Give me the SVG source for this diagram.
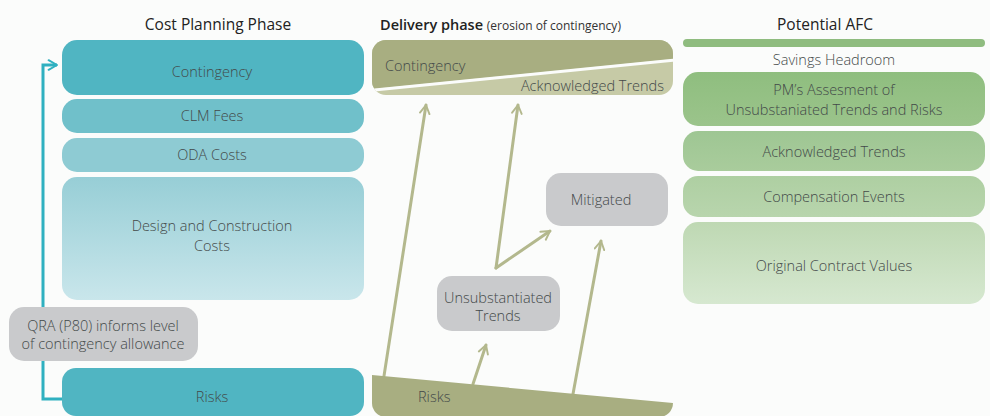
<svg xmlns="http://www.w3.org/2000/svg" width="990" height="416" viewBox="0 0 990 416">
<style>
text{font-family:"Open Sans","Liberation Sans",sans-serif;font-weight:300;fill:#434949;font-size:14.5px}
.c{text-anchor:middle}
.title{font-weight:500;fill:#222;font-size:15.5px}
.olive{stroke:#b3b88d;stroke-width:3;fill:none;stroke-linecap:round;stroke-linejoin:round}
.teal{stroke:#2fb0c0;stroke-width:3;fill:none}
.gray{fill:#c9cacc}
</style>
<defs>
<linearGradient id="gDC" x1="0" y1="0" x2="0" y2="1"><stop offset="0" stop-color="#97ced6"/><stop offset="1" stop-color="#c9e6eb"/></linearGradient>
<linearGradient id="gPM" x1="0" y1="0" x2="0" y2="1"><stop offset="0" stop-color="#8fbe7f"/><stop offset="1" stop-color="#9bc48b"/></linearGradient>
<linearGradient id="gAT" x1="0" y1="0" x2="0" y2="1"><stop offset="0" stop-color="#9ec693"/><stop offset="1" stop-color="#a9cc9c"/></linearGradient>
<linearGradient id="gCE" x1="0" y1="0" x2="0" y2="1"><stop offset="0" stop-color="#aecfa2"/><stop offset="1" stop-color="#b8d5ad"/></linearGradient>
<linearGradient id="gOC" x1="0" y1="0" x2="0" y2="1"><stop offset="0" stop-color="#bed8b3"/><stop offset="1" stop-color="#d6e8d0"/></linearGradient>
<clipPath id="cTop"><rect x="372" y="40" width="301" height="55" rx="14"/></clipPath>
<clipPath id="cBot"><rect x="372" y="350" width="301" height="67" rx="14"/></clipPath>
<marker id="ah" viewBox="0 0 10 10" refX="8" refY="5" markerWidth="4" markerHeight="4" orient="auto" markerUnits="strokeWidth"><path d="M1,1 L8,5 L1,9" fill="none" stroke="#b3b88d" stroke-width="1.6" stroke-linecap="round" stroke-linejoin="round"/></marker>
<marker id="aht" viewBox="0 0 10 10" refX="8" refY="5" markerWidth="4" markerHeight="4" orient="auto" markerUnits="strokeWidth"><path d="M1,1 L8,5 L1,9" fill="none" stroke="#2fb0c0" stroke-width="1.6" stroke-linecap="round" stroke-linejoin="round"/></marker>
</defs>
<rect width="990" height="416" fill="#fbfcfb"/>

<text class="title c" x="218" y="30">Cost Planning Phase</text>
<text x="380" y="30" style="font-weight:600;fill:#222;font-size:14.5px">Delivery phase <tspan style="font-weight:400;font-size:12px;fill:#333">(erosion of contingency)</tspan></text>
<text class="title c" x="825" y="30">Potential AFC</text>

<g id="connectors">
<polyline class="teal" points="62,399 43,399 43,65 57,65" marker-end="url(#aht)"/>
<line class="olive" x1="384" y1="376" x2="426" y2="105" marker-end="url(#ah)"/>
<line class="olive" x1="496" y1="268" x2="518" y2="105" marker-end="url(#ah)"/>
<line class="olive" x1="496" y1="268" x2="550" y2="231" marker-end="url(#ah)"/>
<line class="olive" x1="473" y1="384" x2="486" y2="345" marker-end="url(#ah)"/>
<line class="olive" x1="573" y1="394" x2="601" y2="241" marker-end="url(#ah)"/>
</g>

<g id="cp-contingency"><rect x="62" y="40" width="302" height="55" rx="15" fill="#50b5c2"/><text class="c" x="212" y="77">Contingency</text></g>
<g id="cp-clm"><rect x="62" y="99" width="302" height="34" rx="15" fill="#70c0ca"/><text class="c" x="212" y="121">CLM Fees</text></g>
<g id="cp-oda"><rect x="62" y="138" width="302" height="34" rx="15" fill="#8ecbd3"/><text class="c" x="212" y="160">ODA Costs</text></g>
<g id="cp-design"><rect x="62" y="177" width="302" height="123" rx="15" fill="url(#gDC)"/><text class="c" x="212" y="231">Design and Construction</text><text class="c" x="212" y="251">Costs</text></g>
<g id="cp-risks"><rect x="62" y="368" width="302" height="48" rx="14" fill="#50b5c2"/><text class="c" x="212" y="402">Risks</text></g>
<g id="qra"><rect x="9" y="307" width="189" height="54" rx="15" class="gray"/><text class="c" x="103" y="331">QRA (P80) informs level</text><text class="c" x="103" y="349">of contingency allowance</text></g>

<g id="dp-contingency">
<g clip-path="url(#cTop)">
<rect x="372" y="40" width="301" height="55" fill="#c6caa6"/>
<polygon points="372,40 673,40 673,59 372,89" fill="#a8ae81"/>
<line x1="370" y1="90.5" x2="675" y2="60" stroke="#fbfcfb" stroke-width="3"/>
</g>
<text x="385" y="71">Contingency</text>
<text x="664" y="91" style="text-anchor:end">Acknowledged Trends</text>
</g>
<g id="dp-risks">
<g clip-path="url(#cBot)"><polygon points="372,375 673,403 673,420 372,420" fill="#a8ae81"/></g>
<text x="418" y="402">Risks</text>
</g>
<g id="unsub"><rect x="437" y="276" width="123" height="55" rx="15" class="gray"/><text class="c" x="498" y="303">Unsubstantiated</text><text class="c" x="498" y="321">Trends</text></g>
<g id="mitigated"><rect x="546" y="173" width="122" height="53" rx="15" class="gray"/><text class="c" x="601" y="205">Mitigated</text></g>

<g id="savings"><rect x="683" y="39" width="302" height="8" rx="4" fill="#8fbc7f"/><text class="c" x="834" y="65">Savings Headroom</text></g>
<g id="pm"><rect x="683" y="72" width="302" height="54" rx="15" fill="url(#gPM)"/><text class="c" x="834" y="95">PM’s Assesment of</text><text class="c" x="834" y="115">Unsubstaniated Trends and Risks</text></g>
<g id="ack"><rect x="683" y="131" width="302" height="40" rx="15" fill="url(#gAT)"/><text class="c" x="834" y="157">Acknowledged Trends</text></g>
<g id="comp"><rect x="683" y="176" width="302" height="41" rx="15" fill="url(#gCE)"/><text class="c" x="834" y="202">Compensation Events</text></g>
<g id="orig"><rect x="683" y="222" width="302" height="82" rx="15" fill="url(#gOC)"/><text class="c" x="834" y="271">Original Contract Values</text></g>
</svg>
